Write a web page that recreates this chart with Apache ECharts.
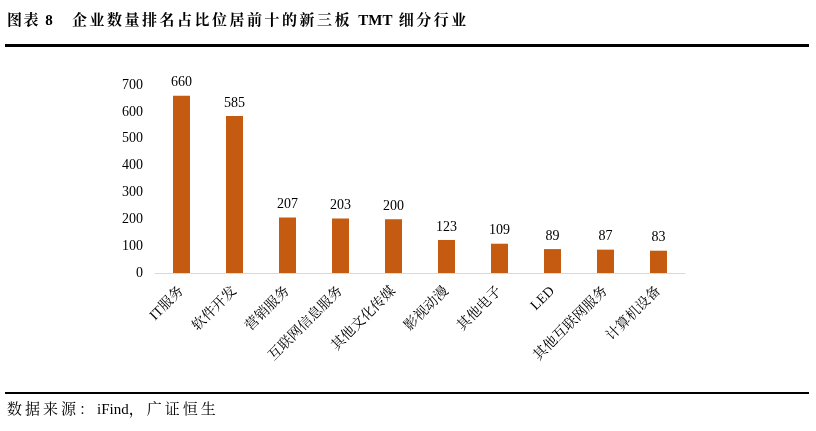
<!DOCTYPE html>
<html><head><meta charset="utf-8">
<script src="https://cdn.jsdelivr.net/npm/echarts@6/dist/echarts.min.js"></script>
<style>html,body{margin:0;padding:0;background:#fff}#c{width:816px;height:431px}</style>
</head><body><div id="c"></div>
<script>
const categories = ['IT服务','软件开发','营销服务','互联网信息服务','其他文化传媒','影视动漫','其他电子','LED','其他互联网服务','计算机设备'];
const values = [660, 585, 207, 203, 200, 123, 109, 89, 87, 83];
const yTicks = {min: 0, max: 700, interval: 100};
const titleLabel = '图表 8';
const titleText = '企业数量排名占比位居前十的新三板 TMT 细分行业';
const sourceText = '数据来源：iFind，广证恒生';

const FONT = '"Liberation Serif", "Noto Serif CJK SC", "Noto Sans CJK SC", serif';

// lay text out character by character, adding letter spacing after CJK glyphs and spaces
function spaced(str, x, y, font, sp) {
  const ctx = document.createElement('canvas').getContext('2d');
  ctx.font = font;
  let cx = x;
  const out = [];
  for (const ch of str) {
    out.push({type: 'text', x: cx, y: y, style: {text: ch, font: font, fill: '#000', textVerticalAlign: 'middle'}});
    const c = ch.charCodeAt(0);
    cx += ctx.measureText(ch).width + (c > 0x2E80 || ch === ' ' ? sp : 0);
  }
  return out;
}

const titleFont = 'bold 15px ' + FONT;
const srcFont = '15px ' + FONT;

const chart = echarts.init(document.getElementById('c'), null, {renderer: 'canvas'});
chart.setOption({
  backgroundColor: '#fff',
  animation: false,
  textStyle: {fontFamily: FONT},
  grid: {left: 155, right: 131, top: 85, bottom: 158, containLabel: false},
  xAxis: {
    type: 'category', data: categories,
    axisLine: {lineStyle: {color: '#d9d9d9', width: 1}},
    axisTick: {show: false},
    axisLabel: {rotate: 45, interval: 0, color: '#000', fontSize: 14, fontFamily: FONT, margin: 16}
  },
  yAxis: {
    type: 'value', min: yTicks.min, max: yTicks.max, interval: yTicks.interval,
    axisLine: {show: false}, axisTick: {show: false}, splitLine: {show: false},
    axisLabel: {color: '#000', fontSize: 14, fontFamily: FONT, margin: 12}
  },
  series: [{
    type: 'bar', data: values, barWidth: 17,
    itemStyle: {color: '#C55A11'},
    label: {show: true, position: 'top', color: '#000', fontSize: 14, fontFamily: FONT, distance: 6}
  }],
  graphic: [].concat(
    spaced(titleLabel, 7, 21, titleFont, 1.5),
    spaced(titleText, 72, 21, titleFont, 2.5),
    [
      {type: 'rect', shape: {x: 5, y: 44, width: 804, height: 3}, style: {fill: '#000'}},
      {type: 'rect', shape: {x: 5, y: 392, width: 804, height: 2}, style: {fill: '#000'}}
    ],
    spaced(sourceText, 7, 410, srcFont, 3.0)
  )
});
</script></body></html>
